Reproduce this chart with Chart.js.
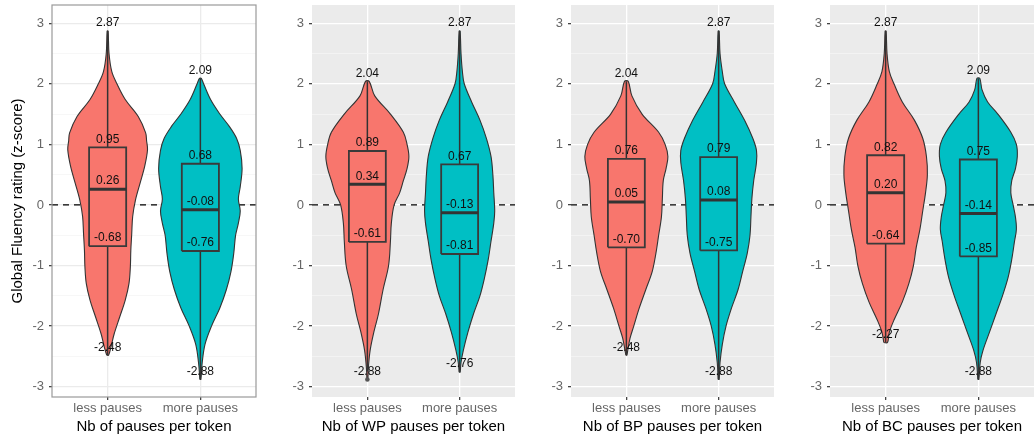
<!DOCTYPE html>
<html lang="en">
<head>
<meta charset="UTF-8">
<title>Global Fluency rating by pauses per token</title>
<script src="https://cdn.jsdelivr.net/npm/chart.js"></script>
<style>
  body { margin: 0; background: #fff; }
  #wrap { position: relative; width: 1035px; height: 443px; }
  canvas { position: absolute; top: 0; }
</style>
</head>
<body>
<div id="wrap">
  <canvas id="c0" width="262" height="443" style="left:0px"></canvas>
  <canvas id="c1" width="258" height="443" style="left:262px"></canvas>
  <canvas id="c2" width="259" height="443" style="left:520px"></canvas>
  <canvas id="c3" width="256" height="443" style="left:779px"></canvas>
</div>
<script>
// ---- data ----
const groups = ['less pauses', 'more pauses'];
const xTitles = ['Nb of pauses per token', 'Nb of WP pauses per token', 'Nb of BP pauses per token', 'Nb of BC pauses per token'];
const yTitle = 'Global Fluency rating (z-score)';
const yMajorTicks = [-3, -2, -1, 0, 1, 2, 3];
const yMinorTicks = [-2.5, -1.5, -0.5, 0.5, 1.5, 2.5];

// box stats per panel: [less, more]
const maxVals = [[2.87, 2.09], [2.04, 2.87], [2.04, 2.87], [2.87, 2.09]];
const q3Vals = [[0.95, 0.68], [0.89, 0.67], [0.76, 0.79], [0.82, 0.75]];
const medVals = [[0.26, -0.08], [0.34, -0.13], [0.05, 0.08], [0.20, -0.14]];
const q1Vals = [[-0.68, -0.76], [-0.61, -0.81], [-0.70, -0.75], [-0.64, -0.85]];
const minVals = [[-2.48, -2.88], [-2.88, -2.76], [-2.48, -2.88], [-2.27, -2.88]];
const whiskerLow = [[-2.48, -2.88], [-2.75, -2.76], [-2.48, -2.88], [-2.27, -2.88]];
const outliers = [[[], []], [[-2.88], []], [[], []], [[], []]];

// violin outlines: levels (y) and half widths (in category units)
const densityY = [
  [
    [-2.48, -2.35, -2.13, -1.85, -1.57, -1.30, -1.02, -0.75, -0.47, -0.19, 0.08, 0.36, 0.64, 0.91, 1.06, 1.19, 1.46, 1.74, 2.0, 2.2, 2.5, 2.87],
    [-2.88, -2.6, -2.3, -2.0, -1.7, -1.4, -1.1, -0.8, -0.5, -0.3, -0.1, 0.1, 0.3, 0.6, 0.9, 1.1, 1.3, 1.5, 1.74, 2.0, 2.09]
  ],
  [
    [-2.88, -2.7, -2.4, -2.1, -1.8, -1.4, -1.0, -0.6, -0.3, 0, 0.2, 0.4, 0.6, 0.8, 1.0, 1.2, 1.5, 1.8, 2.04],
    [-2.76, -2.6, -2.4, -2.1, -1.8, -1.5, -1.2, -0.9, -0.6, -0.3, -0.1, 0.2, 0.5, 0.8, 1.1, 1.4, 1.7, 2.0, 2.2, 2.5, 2.87]
  ],
  [
    [-2.48, -2.4, -2.2, -2.0, -1.7, -1.4, -1.1, -0.8, -0.5, -0.2, 0.1, 0.4, 0.6, 0.8, 1.0, 1.2, 1.5, 1.8, 2.04],
    [-2.88, -2.6, -2.3, -2.0, -1.7, -1.4, -1.1, -0.8, -0.5, -0.2, 0.1, 0.4, 0.7, 0.9, 1.1, 1.4, 1.7, 2.0, 2.2, 2.5, 2.87]
  ],
  [
    [-2.27, -2.1, -1.9, -1.6, -1.3, -1.0, -0.7, -0.4, -0.1, 0.2, 0.5, 0.8, 1.1, 1.4, 1.7, 2.0, 2.2, 2.5, 2.87],
    [-2.88, -2.6, -2.4, -2.1, -1.8, -1.5, -1.2, -0.9, -0.6, -0.4, -0.2, 0, 0.2, 0.4, 0.6, 0.8, 1.0, 1.2, 1.5, 1.7, 1.9, 2.09]
  ]
];
const densityW = [
  [
    [0.01, 0.035, 0.07, 0.13, 0.19, 0.23, 0.245, 0.25, 0.26, 0.27, 0.30, 0.35, 0.40, 0.43, 0.42, 0.41, 0.33, 0.19, 0.10, 0.045, 0.015, 0.005],
    [0.005, 0.02, 0.05, 0.12, 0.21, 0.28, 0.33, 0.36, 0.38, 0.41, 0.43, 0.41, 0.43, 0.45, 0.43, 0.39, 0.31, 0.21, 0.11, 0.035, 0.01]
  ],
  [
    [0.005, 0.01, 0.03, 0.07, 0.12, 0.17, 0.23, 0.25, 0.26, 0.29, 0.35, 0.39, 0.43, 0.45, 0.43, 0.39, 0.25, 0.08, 0.02],
    [0.005, 0.015, 0.04, 0.09, 0.15, 0.22, 0.27, 0.31, 0.34, 0.37, 0.38, 0.37, 0.36, 0.34, 0.29, 0.22, 0.13, 0.05, 0.03, 0.015, 0.005]
  ],
  [
    [0.005, 0.015, 0.04, 0.08, 0.14, 0.21, 0.28, 0.32, 0.35, 0.38, 0.39, 0.40, 0.43, 0.45, 0.42, 0.35, 0.17, 0.06, 0.02],
    [0.005, 0.015, 0.04, 0.08, 0.14, 0.21, 0.26, 0.31, 0.34, 0.35, 0.36, 0.38, 0.41, 0.41, 0.37, 0.28, 0.17, 0.065, 0.04, 0.015, 0.005]
  ],
  [
    [0.02, 0.04, 0.09, 0.18, 0.25, 0.30, 0.33, 0.37, 0.40, 0.43, 0.45, 0.44, 0.40, 0.31, 0.18, 0.09, 0.04, 0.015, 0.005],
    [0.005, 0.02, 0.05, 0.12, 0.19, 0.26, 0.32, 0.36, 0.39, 0.41, 0.40, 0.375, 0.35, 0.36, 0.40, 0.42, 0.41, 0.35, 0.21, 0.10, 0.04, 0.015]
  ]
];

// ---- layout / style ----
const fillColors = ['#F8766D', '#00BFC4'];
const yAxisWidth = [52, 50, 51, 51];
const rightPad = [6, 5, 5, 1];
const FONT = '"Liberation Sans", Arial, sans-serif';
Chart.defaults.font.family = FONT;

const panelBg = {
  id: 'panelBg',
  beforeDraw(chart, args, opts) {
    const { ctx, chartArea: a } = chart;
    ctx.save();
    ctx.fillStyle = opts.fill;
    ctx.fillRect(a.left, a.top, a.width, a.height);
    ctx.restore();
  },
  afterDraw(chart, args, opts) {
    if (!opts.border) return;
    const { ctx, chartArea: a } = chart;
    ctx.save();
    ctx.strokeStyle = opts.border;
    ctx.lineWidth = 1.2;
    ctx.strokeRect(a.left, a.top, a.width, a.height);
    ctx.restore();
  }
};

// numbers above each stat
const valueLabels = {
  id: 'valueLabels',
  afterDatasetsDraw(chart, args, opts) {
    const p = opts.panel;
    const { ctx, scales: { x, y } } = chart;
    ctx.save();
    ctx.font = '12px ' + FONT;
    ctx.fillStyle = '#111';
    ctx.textAlign = 'center';
    ctx.textBaseline = 'middle';
    groups.forEach((g, i) => {
      const px = x.getPixelForValue(i + 1);
      [maxVals, q3Vals, medVals, q1Vals, minVals].forEach(arr => {
        const v = arr[p][i];
        ctx.fillText(v.toFixed(2), px, y.getPixelForValue(v) - 8);
      });
    });
    ctx.restore();
  }
};

function violinPoints(p, i) {
  const c = i + 1, ys = densityY[p][i], ws = densityW[p][i];
  const pts = [];
  for (let k = 0; k < ys.length; k++) pts.push({ x: c - ws[k], y: ys[k] });
  for (let k = ys.length - 1; k >= 0; k--) pts.push({ x: c + ws[k], y: ys[k] });
  pts.push({ x: c - ws[0], y: ys[0] });
  return pts;
}

function makeChart(p) {
  const bw = p === 0;
  const gridMajor = bw ? '#EBEBEB' : '#FFFFFF';
  const gridMinor = bw ? '#F3F3F3' : '#F7F7F7';
  const datasets = [];

  datasets.push({
    data: [{ x: 0.4, y: 0 }, { x: 2.6, y: 0 }],
    showLine: true, borderColor: '#000', borderWidth: 1.3, borderDash: [6, 5],
    pointRadius: 0, order: 10
  });

  groups.forEach((g, i) => {
    const c = i + 1;
    datasets.push({
      data: violinPoints(p, i),
      showLine: true, fill: 'shape', tension: 0.35,
      backgroundColor: fillColors[i], borderColor: '#333', borderWidth: 1.1,
      pointRadius: 0, order: 6
    });
    datasets.push({
      data: [{ x: c, y: q3Vals[p][i] }, { x: c, y: maxVals[p][i] }],
      showLine: true, borderColor: '#333', borderWidth: 1.5, pointRadius: 0, order: 4
    });
    datasets.push({
      data: [{ x: c, y: q1Vals[p][i] }, { x: c, y: whiskerLow[p][i] }],
      showLine: true, borderColor: '#333', borderWidth: 1.5, pointRadius: 0, order: 4
    });
    datasets.push({
      data: [
        { x: c - 0.2, y: q1Vals[p][i] }, { x: c + 0.2, y: q1Vals[p][i] },
        { x: c + 0.2, y: q3Vals[p][i] }, { x: c - 0.2, y: q3Vals[p][i] },
        { x: c - 0.2, y: q1Vals[p][i] }
      ],
      showLine: true, borderColor: '#3a3a3a', borderWidth: 1.8, pointRadius: 0, order: 3
    });
    datasets.push({
      data: [{ x: c - 0.2, y: medVals[p][i] }, { x: c + 0.2, y: medVals[p][i] }],
      showLine: true, borderColor: '#333', borderWidth: 3, pointRadius: 0, order: 2
    });
    if (outliers[p][i].length) {
      datasets.push({
        data: outliers[p][i].map(v => ({ x: c, y: v })),
        showLine: false, pointRadius: 2.3, pointBackgroundColor: '#555', pointBorderWidth: 0, order: 1
      });
    }
  });

  return new Chart(document.getElementById('c' + p), {
    type: 'scatter',
    data: { datasets },
    options: {
      responsive: false,
      animation: false,
      events: [],
      layout: { padding: { top: 5, right: rightPad[p], left: 0, bottom: 0 } },
      plugins: {
        legend: { display: false },
        tooltip: { enabled: false },
        panelBg: { fill: bw ? '#FFFFFF' : '#EBEBEB', border: bw ? '#9A9A9A' : null },
        valueLabels: { panel: p }
      },
      scales: {
        x: {
          type: 'linear', min: 0.4, max: 2.6,
          afterBuildTicks: s => { s.ticks = groups.map((g, i) => ({ value: i + 1 })); },
          afterFit: s => { s.height = 46; },
          ticks: {
            autoSkip: false, maxRotation: 0, padding: 1,
            color: '#666', font: { size: 13 },
            callback: v => groups[v - 1]
          },
          grid: { color: gridMajor, lineWidth: 1.3, tickLength: 3, tickColor: '#444' },
          border: { display: false },
          title: {
            display: true, text: xTitles[p], color: '#000',
            font: { size: 15 }, padding: { top: 0, bottom: 7 }
          }
        },
        y: {
          type: 'linear', min: -3.17, max: 3.30,
          afterBuildTicks: s => {
            s.ticks = yMajorTicks.concat(yMinorTicks).sort((a, b) => a - b).map(v => ({ value: v }));
          },
          afterFit: s => {
            s.width = yAxisWidth[p];
            s.paddingTop = 0;
            s.paddingBottom = 0;
          },
          ticks: {
            autoSkip: false, padding: 5, color: '#666', font: { size: 13 },
            callback: v => (yMajorTicks.includes(v) ? String(v) : '')
          },
          grid: {
            color: c => (yMajorTicks.includes(c.tick.value) ? gridMajor : gridMinor),
            lineWidth: c => (yMajorTicks.includes(c.tick.value) ? 1.3 : 0.7),
            tickLength: 3,
            tickColor: c => (yMajorTicks.includes(c.tick.value) ? '#444' : 'rgba(0,0,0,0)')
          },
          border: { display: false },
          title: {
            display: bw, text: yTitle, color: '#000',
            font: { size: 15 }, padding: { top: 9, bottom: 0 }
          }
        }
      }
    },
    plugins: [panelBg, valueLabels]
  });
}

[0, 1, 2, 3].forEach(makeChart);
</script>
</body>
</html>
